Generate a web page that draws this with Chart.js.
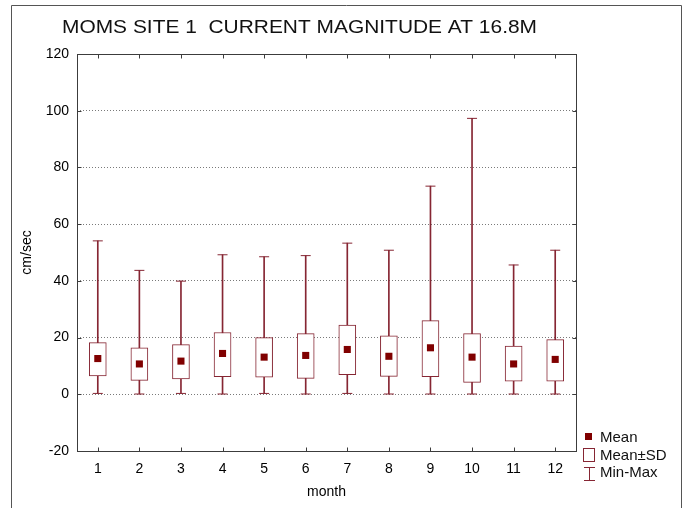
<!DOCTYPE html>
<html>
<head>
<meta charset="utf-8">
<script src="https://cdn.jsdelivr.net/npm/chart.js@4.4.0/dist/chart.umd.min.js"></script>
<style>
  body { margin: 0; background: #fff; }
  #wrap { width: 686px; height: 508px; }
</style>
</head>
<body>
<div id="wrap"><canvas id="chart" width="686" height="508"></canvas></div>
<script>
// monthly current magnitude, cm/sec
var months = ['1', '2', '3', '4', '5', '6', '7', '8', '9', '10', '11', '12'];
var meanValues = [12.6, 10.7, 11.7, 14.4, 13.1, 13.7, 15.8, 13.4, 16.4, 13.1, 10.7, 12.3];
var sdLow  = [6.5, 4.9, 5.4, 6.2, 6.0, 5.6, 6.9, 6.3, 6.2, 4.2, 4.6, 4.6];
var sdHigh = [18.2, 16.4, 17.5, 21.8, 20.0, 21.4, 24.4, 20.6, 26.0, 21.4, 17.0, 19.3];
var minValues = [0.3, 0.1, 0.3, 0.1, 0.3, 0.1, 0.3, 0.1, 0.1, 0.1, 0.1, 0.1];
var maxValues = [54.1, 43.7, 39.9, 49.2, 48.5, 48.9, 53.3, 50.8, 73.4, 97.3, 45.6, 50.8];
var yTicks = [-20, 0, 20, 40, 60, 80, 100, 120];
var legendLabels = ['Mean', 'Mean\u00b1SD', 'Min-Max'];

var titleText = 'MOMS SITE 1  CURRENT MAGNITUDE AT 16.8M';
var darkRed = '#800000';
var boxColor = '#862633';
var frameColor = '#3c3c3c';
var FONT = '"Liberation Sans", Arial, sans-serif';

var boxData = [], rangeData = [];
for (var i = 0; i < months.length; i++) {
  boxData.push([sdLow[i], sdHigh[i]]);
  rangeData.push([minValues[i], maxValues[i]]);
}

// frame, inner ticks, title, legend and page border
var decorations = {
  id: 'decorations',
  afterDraw: function (chart) {
    var ctx = chart.ctx;
    var a = chart.chartArea;
    var xs = chart.scales.x, ys = chart.scales.y;
    var L = Math.round(a.left) + 0.5, R = Math.round(a.right) + 0.5;
    var T = Math.round(a.top) + 0.5, B = Math.round(a.bottom) + 0.5;
    ctx.save();
    ctx.strokeStyle = frameColor;
    ctx.lineWidth = 1;
    ctx.strokeRect(L, T, R - L, B - T);
    ctx.beginPath();
    for (var i = 0; i < months.length; i++) {
      var x = Math.round(xs.getPixelForValue(i)) + 0.5;
      ctx.moveTo(x, T); ctx.lineTo(x, T + 4);
      ctx.moveTo(x, B); ctx.lineTo(x, B - 4);
    }
    yTicks.forEach(function (v) {
      var y = Math.round(ys.getPixelForValue(v)) + 0.5;
      ctx.moveTo(L, y); ctx.lineTo(L + 4, y);
      ctx.moveTo(R, y); ctx.lineTo(R - 4, y);
    });
    ctx.stroke();

    // outer border of the figure
    ctx.strokeStyle = '#555';
    ctx.beginPath();
    ctx.moveTo(11.5, 508); ctx.lineTo(11.5, 5.5); ctx.lineTo(681.5, 5.5); ctx.lineTo(681.5, 508);
    ctx.stroke();

    // title, stretched a little to its wide lettering
    ctx.fillStyle = '#111';
    ctx.font = '19px ' + FONT;
    ctx.textBaseline = 'alphabetic';
    ctx.textAlign = 'left';
    var tw = ctx.measureText(titleText).width;
    ctx.save();
    ctx.translate(62, 33);
    ctx.scale(475 / tw, 1);
    ctx.fillText(titleText, 0, 0);
    ctx.restore();

    // legend
    ctx.font = '15px ' + FONT;
    ctx.fillStyle = darkRed;
    ctx.fillRect(585, 433, 7, 7);
    ctx.strokeStyle = boxColor;
    ctx.strokeRect(583.5, 448.5, 11, 13);
    ctx.beginPath();
    ctx.moveTo(584, 467.5); ctx.lineTo(595, 467.5);
    ctx.moveTo(589.5, 467.5); ctx.lineTo(589.5, 480.5);
    ctx.moveTo(584, 480.5); ctx.lineTo(595, 480.5);
    ctx.stroke();
    ctx.fillStyle = '#111';
    ctx.fillText(legendLabels[0], 600, 442);
    ctx.fillText(legendLabels[1], 600, 459.5);
    ctx.fillText(legendLabels[2], 600, 477);
    ctx.restore();
  }
};

new Chart(document.getElementById('chart'), {
  data: {
    labels: months,
    datasets: [
      {
        type: 'line', label: legendLabels[0], data: meanValues, order: 0,
        showLine: false, pointStyle: 'rect', pointRadius: 5,
        pointBackgroundColor: darkRed, pointBorderColor: darkRed, pointBorderWidth: 0
      },
      {
        type: 'bar', label: legendLabels[1], data: boxData, order: 1,
        backgroundColor: '#ffffff', borderColor: boxColor, borderWidth: 1,
        borderSkipped: false, barThickness: 17, grouped: false
      },
      {
        type: 'line', label: 'max', data: maxValues, order: 2,
        showLine: false, pointStyle: 'line', pointRadius: 5,
        pointBorderColor: boxColor, pointBorderWidth: 1
      },
      {
        type: 'line', label: 'min', data: minValues, order: 2,
        showLine: false, pointStyle: 'line', pointRadius: 5,
        pointBorderColor: boxColor, pointBorderWidth: 1
      },
      {
        type: 'bar', label: legendLabels[2], data: rangeData, order: 3,
        backgroundColor: boxColor, borderWidth: 0, barThickness: 1, grouped: false
      }
    ]
  },
  options: {
    responsive: false,
    animation: false,
    events: [],
    layout: { padding: { top: 54, right: 110, bottom: 0, left: 0 } },
    plugins: { legend: { display: false }, title: { display: false }, tooltip: { enabled: false } },
    scales: {
      x: {
        type: 'category',
        offset: true,
        grid: { display: false, drawTicks: false },
        border: { display: false },
        ticks: { color: '#000', font: { family: FONT, size: 14 }, padding: 10 },
        title: { display: true, text: 'month', color: '#000', font: { family: FONT, size: 14 }, padding: { top: 7, bottom: 7 } },
        afterFit: function (s) { s.height = 57; }
      },
      y: {
        min: -20, max: 120,
        grid: { color: '#7a7a7a', lineWidth: 1, drawTicks: false },
        border: { display: false, dash: [1, 2] },
        ticks: { stepSize: 20, color: '#000', font: { family: FONT, size: 14 }, padding: 8 },
        title: { display: true, text: 'cm/sec', color: '#000', font: { family: FONT, size: 14 }, padding: { top: 19, bottom: 19 } },
        afterFit: function (s) { s.width = 77; }
      }
    }
  },
  plugins: [decorations]
});
</script>
</body>
</html>
